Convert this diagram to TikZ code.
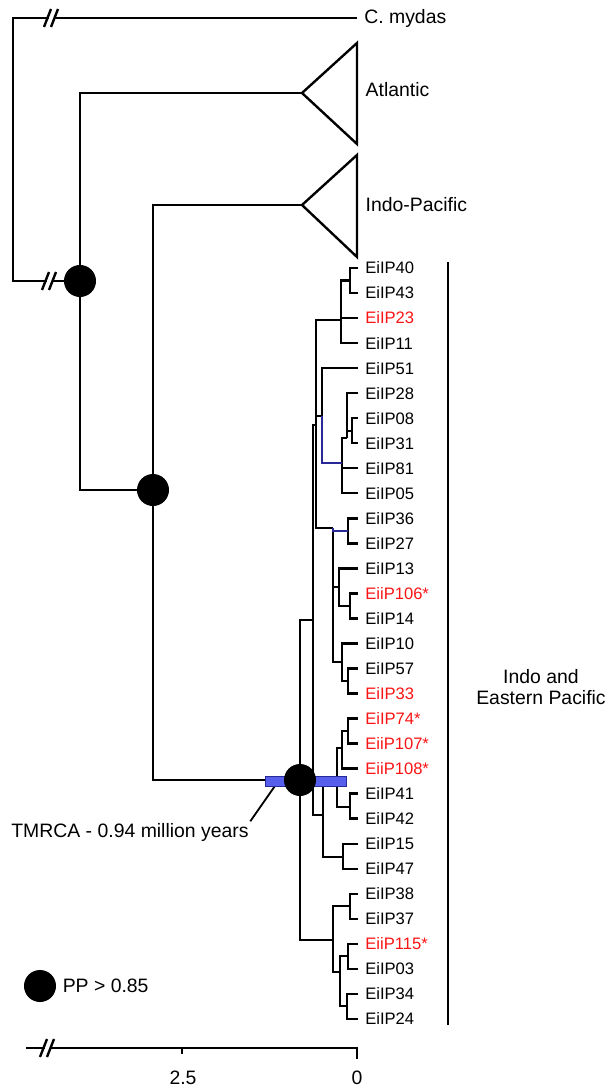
\documentclass[tikz,border=0pt]{standalone}
\usepackage{fontspec}
\setmainfont{Liberation Sans}
\usetikzlibrary{positioning}
\definecolor{tipred}{RGB}{250,20,20}
\definecolor{hpdblue}{RGB}{85,95,235}
\definecolor{hpdnavy}{RGB}{40,40,150}
\tikzset{
  branch/.style={line width=1.7pt, black},
  hpdline/.style={line width=0.9pt, hpdnavy},
  hpdbar/.style={draw=hpdnavy, fill=hpdblue, line width=0.6pt},
  tiplab/.style={anchor=west, inner xsep=5pt, inner ysep=1pt, font=\fontsize{11.8}{13}\selectfont},
  redtip/.style={tiplab, text=tipred},
  cladelab/.style={inner sep=1pt, font=\fontsize{13.8}{14.9}\selectfont},
  ppdot/.style={circle, fill=black, inner sep=0pt, minimum size=0.8cm},
}
\newcommand{\axbreak}[2]{%
  \fill[white] ({#1-3.5},{#2-4}) rectangle ({#1+1.5},{#2+4});
  \draw[branch] ({#1-8},{#2+9}) -- ({#1-1},{#2-9});
  \draw[branch] ({#1-1},{#2+9}) -- ({#1+6},{#2-9});
}

\begin{document}
\begin{tikzpicture}[x=0.025cm, y=-0.025cm]
\useasboundingbox (0,0) rectangle (611,1090);
% tip labels
\foreach \lab/\sty [count=\i] in {EiIP40/tiplab, EiIP43/tiplab, EiIP23/redtip, EiIP11/tiplab,
    EiIP51/tiplab, EiIP28/tiplab, EiIP08/tiplab, EiIP31/tiplab, EiIP81/tiplab, EiIP05/tiplab,
    EiIP36/tiplab, EiIP27/tiplab, EiIP13/tiplab, EiiP106*/redtip, EiIP14/tiplab, EiIP10/tiplab,
    EiIP57/tiplab, EiIP33/redtip, EiIP74*/redtip, EiiP107*/redtip, EiiP108*/redtip, EiIP41/tiplab,
    EiIP42/tiplab, EiIP15/tiplab, EiIP47/tiplab, EiIP38/tiplab, EiIP37/tiplab, EiiP115*/redtip,
    EiIP03/tiplab, EiIP34/tiplab, EiIP24/tiplab}
  \node[\sty] (t\i) at (358,{268+(\i-1)*25.03}) {\lab};

% outgroup and collapsed clades
\node[cladelab, anchor=west, inner xsep=5pt] (cm) at (357,18) {C. mydas};
\coordinate (atl) at (302,93);
\coordinate (ipa) at (302,205);
\draw[branch] (atl) -- (357,43) -- (357,144) -- cycle;
\draw[branch] (ipa) -- (357,155) -- (357,257) -- cycle;
\node[cladelab, anchor=west] (atllab) at (364,90) {Atlantic};
\node[cladelab, anchor=west] (iplab) at (364,205) {Indo-Pacific};

% internal nodes
\coordinate (root) at (13,150);
\coordinate (k1) at (80,281);
\coordinate (k2) at (153,490);
\coordinate (k3) at (300,780);
\coordinate (R1) at (313,620);
\coordinate (U) at (316,425);
\coordinate (a2) at (341,320);
\coordinate (a1) at (350,280.5);
\coordinate (V) at (322,416);
\coordinate (n5) at (342,463);
\coordinate (n4) at (347,438);
\coordinate (n3) at (352,431);
\coordinate (H) at (333,528);
\coordinate (p36) at (348,531);
\coordinate (J) at (339,587);
\coordinate (q106) at (350,606);
\coordinate (K) at (342,662);
\coordinate (q57) at (348,681);
\coordinate (nE) at (323,815);
\coordinate (nC) at (337,780);
\coordinate (nA) at (342,748);
\coordinate (p74) at (348,731);
\coordinate (nB) at (350,807);
\coordinate (nD) at (343,857);
\coordinate (Bot) at (333,940);
\coordinate (p38) at (350,906);
\coordinate (L) at (340,972);
\coordinate (p115) at (348,956);
\coordinate (p34) at (347,1006);

\foreach \a/\b in {root/cm.west, root/k1, k1/atl, k1/k2, k2/ipa, k2/k3, k3/R1, k3/Bot,
    R1/U, R1/nE, U/a2, U/V, U/H, a2/a1, a2/t3.west, a2/t4.west, a1/t1.west, a1/t2.west,
    V/t5.west, n5/n4, n5/t9.west, n5/t10.west, n4/t6.west, n4/n3, n3/t7.west, n3/t8.west,
    H/J, H/K, p36/t11.west, p36/t12.west, J/t13.west, J/q106, q106/t14.west, q106/t15.west,
    K/t16.west, K/q57, q57/t17.west, q57/t18.west, nE/nC, nE/nD, nC/nA, nC/nB,
    nA/p74, nA/t21.west, p74/t19.west, p74/t20.west, nB/t22.west, nB/t23.west,
    nD/t24.west, nD/t25.west, Bot/p38, Bot/L, p38/t26.west, p38/t27.west,
    L/p115, L/p34, p115/t28.west, p115/t29.west, p34/t30.west, p34/t31.west}
  \draw[branch] (\a) |- (\b);
\draw[hpdline] (V) |- (n5);
\draw[hpdline] (H) |- (p36);

\axbreak{52}{18}
\axbreak{50}{281}

% TMRCA
\coordinate (ptr) at (277,783);
\node[cladelab] (tmrca) at (130,832) {TMRCA - 0.94 million years};
\draw[branch, line width=1.3pt] (tmrca.north east) -- (ptr);
\draw[hpdbar] (265,776) rectangle (346,786);
\node[ppdot] (dot1) at (k1) {};
\node[ppdot] (dot2) at (k2) {};
\node[ppdot] (dot3) at (k3) {};

% clade bar
\draw[branch] (448,262) -- (448,1025);
\node[cladelab, align=center] (iep) at (541,687) {Indo and\\Eastern Pacific};

% legend
\node[ppdot] (legdot) at (40,986) {};
\node[cladelab, right=0.12cm of legdot] (leglab) {PP > 0.85};

% axis
\draw[branch] (26,1048) -- (357,1048);
\draw[branch] (182,1048) -- (182,1054);
\draw[branch] (357,1047.3) -- (357,1059);
\axbreak{48}{1048}
\node[cladelab] (ax25) at (183,1078) {2.5};
\node[cladelab] (ax0) at (357,1078) {0};
\end{tikzpicture}
\end{document}
